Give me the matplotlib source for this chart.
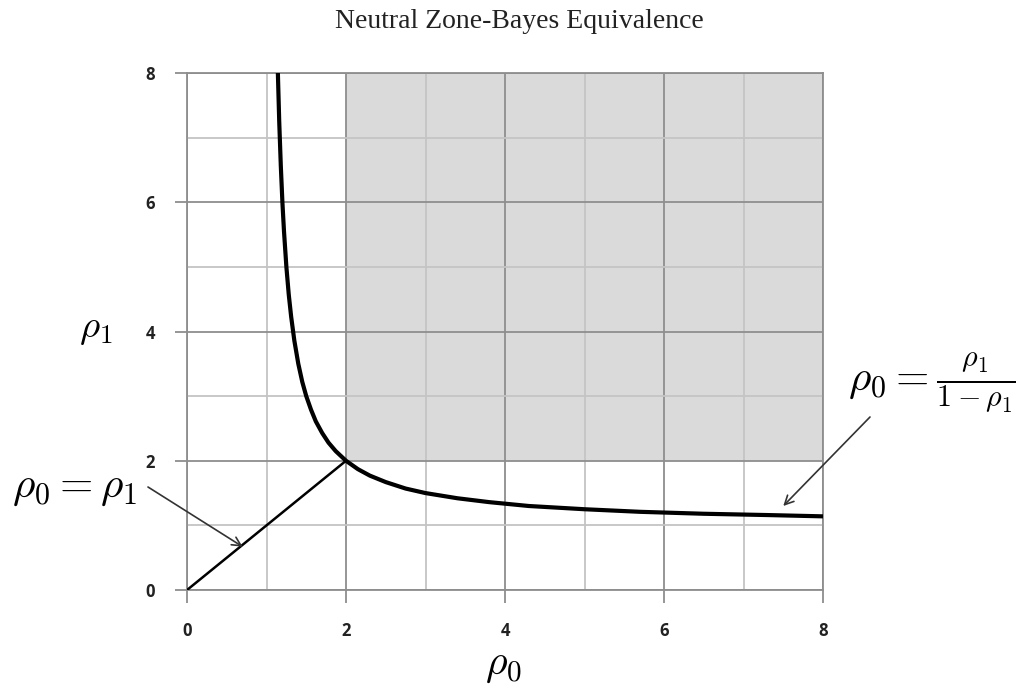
import matplotlib
matplotlib.use("Agg")
import matplotlib.pyplot as plt

plt.rcParams['mathtext.fontset'] = 'cm'

# boundary curve rho1 against rho0
curve_x = [1.143, 1.16, 1.18, 1.2, 1.22, 1.25, 1.28, 1.31, 1.35, 1.4, 1.45, 1.5,
           1.56, 1.62, 1.7, 1.78, 1.87, 2.0, 2.15, 2.3, 2.5, 2.75, 3.0, 3.4,
           3.8, 4.3, 5.0, 5.7, 6.5, 7.3, 8.0]
curve_y = [8.0, 7.25, 6.56, 6.0, 5.55, 5.0, 4.57, 4.23, 3.86, 3.5, 3.22, 3.0,
           2.79, 2.61, 2.43, 2.28, 2.15, 2.0, 1.87, 1.77, 1.67, 1.57, 1.5, 1.42,
           1.36, 1.30, 1.25, 1.21, 1.18, 1.16, 1.14]

# equal line rho0 = rho1
diag_x = [0, 2]
diag_y = [0, 2]

# shaded region
shade_x = [2, 8]
shade_y = [2, 8]

ticks = [0, 2, 4, 6, 8]
minor = [1, 3, 5, 7]

W, H = 1023, 690
fig = plt.figure(figsize=(W / 100, H / 100), dpi=100)
ax = fig.add_axes([0.1828, 0.1449, 0.6217, 0.7493])

ax.fill_between(shade_x, shade_y[0], shade_y[1], color='#dadada', zorder=0, lw=0)

ax.set_xlim(0, 8)
ax.set_ylim(0, 8)
ax.set_xticks(ticks)
ax.set_yticks(ticks)
ax.set_xticks(minor, minor=True)
ax.set_yticks(minor, minor=True)
ax.grid(which='major', color='#8e8e8e', lw=1.3, zorder=1)
ax.grid(which='minor', color='#c4c4c4', lw=1.3, zorder=1)
ax.tick_params(which='major', length=9, width=1.3, color='#8e8e8e', labelsize=12,
               pad=14, labelcolor='#222222')
ax.tick_params(which='minor', length=0)
for lab in ax.get_xticklabels() + ax.get_yticklabels():
    lab.set_fontweight('bold')
    lab.set_family('Open Sans')
for s in ax.spines.values():
    s.set_color('#8e8e8e')
    s.set_linewidth(1.3)
ax.set_axisbelow(True)

ax.plot(curve_x, curve_y, color='black', lw=3, zorder=3, solid_capstyle='butt')
ax.plot(diag_x, diag_y, color='black', lw=1.8, zorder=3)

arrow = dict(arrowstyle='->', color='#333333', lw=1.2, shrinkA=0, shrinkB=0,
             mutation_scale=16)
ax.annotate('', xy=(0.7, 0.67), xycoords='data',
            xytext=(148, H - 487), textcoords='figure pixels',
            annotation_clip=False, arrowprops=arrow)
ax.annotate('', xy=(7.5, 1.3), xycoords='data',
            xytext=(870, H - 417), textcoords='figure pixels',
            annotation_clip=False, arrowprops=arrow)

fig.text(75 / W, 1 - 487 / H, r'$\rho_0 = \rho_1$', fontsize=31, ha='center', va='center')
fig.text(932 / W, 1 - 383 / H, r'$\rho_0 = \frac{\rho_1}{1-\rho_1}$', fontsize=31,
         ha='center', va='center')
fig.text(96 / W, 1 - 328 / H, r'$\rho_1$', fontsize=28, ha='center', va='center')
fig.text(503 / W, 1 - 664 / H, r'$\rho_0$', fontsize=30, ha='center', va='center')
fig.text(519 / W, 1 - 22 / H, 'Neutral Zone-Bayes Equivalence',
         family='Liberation Serif', fontsize=20, ha='center', va='center', color='#222222')

fig.savefig('out.png', dpi=100)
